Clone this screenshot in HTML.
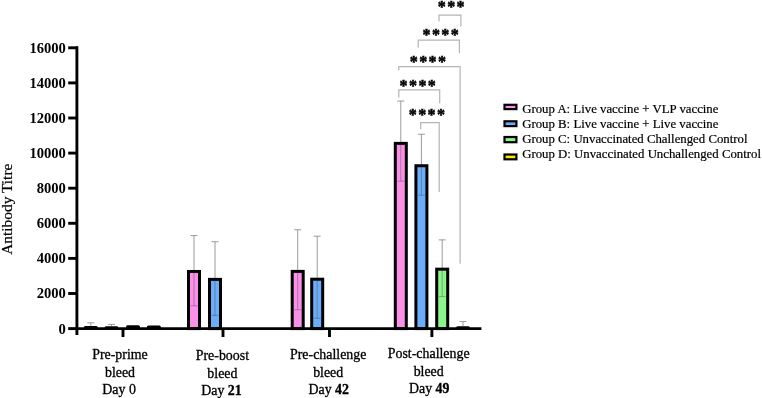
<!DOCTYPE html>
<html lang="en">
<head>
<meta charset="utf-8">
<title>Antibody Titre</title>
<style>
html,body{margin:0;padding:0;background:#fff;}
body{width:762px;height:398px;overflow:hidden;}
svg{display:block;}
</style>
</head>
<body>
<svg width="762" height="398" viewBox="0 0 762 398">
<rect width="762" height="398" fill="#fff"/>
<g id="bars">
<path d="M90.80 322.81V325.97M87.30 322.81h7" stroke="#8e8e8e" stroke-width="0.9" fill="none"/>
<rect x="83.80" y="325.97" width="14.00" height="3.63" rx="1.5" fill="#000"/>
<path d="M111.50 324.39V326.32M108.00 324.39h7" stroke="#8e8e8e" stroke-width="0.9" fill="none"/>
<rect x="104.50" y="326.32" width="14.00" height="3.28" rx="1.5" fill="#000"/>
<rect x="126.00" y="325.27" width="14.00" height="4.33" rx="1.5" fill="#000"/>
<rect x="146.90" y="325.62" width="14.00" height="3.98" rx="1.5" fill="#000"/>
<rect x="188.50" y="271.48" width="11.00" height="57.12" fill="#fb90e8"/>
<path d="M194.00 235.59V269.98M190.50 235.59h7" stroke="#8e8e8e" stroke-width="0.9" fill="none"/>
<path d="M194.00 269.98V305.79M190.50 305.79h7" stroke="#444" stroke-width="1" fill="none" opacity="0.4"/>
<rect x="188.50" y="271.48" width="11.00" height="57.12" fill="none" stroke="#000" stroke-width="3.0"/>
<rect x="209.50" y="279.38" width="11.00" height="49.22" fill="#6aaefa"/>
<path d="M215.00 241.73V277.88M211.50 241.73h7" stroke="#8e8e8e" stroke-width="0.9" fill="none"/>
<path d="M215.00 277.88V315.44M211.50 315.44h7" stroke="#444" stroke-width="1" fill="none" opacity="0.4"/>
<rect x="209.50" y="279.38" width="11.00" height="49.22" fill="none" stroke="#000" stroke-width="3.0"/>
<rect x="292.20" y="271.40" width="11.00" height="57.20" fill="#fb90e8"/>
<path d="M297.70 229.79V269.90M294.20 229.79h7" stroke="#8e8e8e" stroke-width="0.9" fill="none"/>
<path d="M297.70 269.90V309.73M294.20 309.73h7" stroke="#444" stroke-width="1" fill="none" opacity="0.4"/>
<rect x="292.20" y="271.40" width="11.00" height="57.20" fill="none" stroke="#000" stroke-width="3.0"/>
<rect x="311.70" y="279.21" width="11.00" height="49.39" fill="#6aaefa"/>
<path d="M317.20 236.20V277.71M313.70 236.20h7" stroke="#8e8e8e" stroke-width="0.9" fill="none"/>
<path d="M317.20 277.71V318.25M313.70 318.25h7" stroke="#444" stroke-width="1" fill="none" opacity="0.4"/>
<rect x="311.70" y="279.21" width="11.00" height="49.39" fill="none" stroke="#000" stroke-width="3.0"/>
<rect x="395.30" y="143.37" width="11.00" height="185.23" fill="#fb90e8"/>
<path d="M400.80 101.06V141.87M397.30 101.06h7" stroke="#8e8e8e" stroke-width="0.9" fill="none"/>
<path d="M400.80 141.87V181.18M397.30 181.18h7" stroke="#444" stroke-width="1" fill="none" opacity="0.4"/>
<rect x="395.30" y="143.37" width="11.00" height="185.23" fill="none" stroke="#000" stroke-width="3.0"/>
<rect x="415.90" y="165.74" width="11.00" height="162.86" fill="#6aaefa"/>
<path d="M421.40 134.23V164.24M417.90 134.23h7" stroke="#8e8e8e" stroke-width="0.9" fill="none"/>
<path d="M421.40 164.24V195.22M417.90 195.22h7" stroke="#444" stroke-width="1" fill="none" opacity="0.4"/>
<rect x="415.90" y="165.74" width="11.00" height="162.86" fill="none" stroke="#000" stroke-width="3.0"/>
<rect x="436.70" y="269.17" width="11.00" height="59.43" fill="#8af58a"/>
<path d="M442.20 239.88V267.67M438.70 239.88h7" stroke="#8e8e8e" stroke-width="0.9" fill="none"/>
<path d="M442.20 267.67V296.66M438.70 296.66h7" stroke="#444" stroke-width="1" fill="none" opacity="0.4"/>
<rect x="436.70" y="269.17" width="11.00" height="59.43" fill="none" stroke="#000" stroke-width="3.0"/>
<path d="M463.00 321.58V326.14M459.50 321.58h7" stroke="#8e8e8e" stroke-width="0.9" fill="none"/>
<rect x="456.00" y="326.14" width="14.00" height="3.46" rx="1.5" fill="#000"/>
</g>
<g id="axes" stroke="#000" stroke-width="2.9" fill="none">
<path d="M76.9 46.30V335"/>
<path d="M76 328.60H481.4"/>
<path d="M68.2 328.60H77"/>
<path d="M68.2 293.50H77"/>
<path d="M68.2 258.40H77"/>
<path d="M68.2 223.30H77"/>
<path d="M68.2 188.20H77"/>
<path d="M68.2 153.10H77"/>
<path d="M68.2 118.00H77"/>
<path d="M68.2 82.90H77"/>
<path d="M68.2 47.80H77"/>
<path d="M123 328.6V337"/>
<path d="M223 328.6V337"/>
<path d="M329.5 328.6V337"/>
<path d="M431.9 328.6V337"/>
</g>
<g font-family="'Liberation Serif', serif" font-weight="bold" font-size="14.6" text-anchor="end" fill="#000">
<text x="65.9" y="333.50">0</text>
<text x="65.9" y="298.40">2000</text>
<text x="65.9" y="263.30">4000</text>
<text x="65.9" y="228.20">6000</text>
<text x="65.9" y="193.10">8000</text>
<text x="65.9" y="158.00">10000</text>
<text x="65.9" y="122.90">12000</text>
<text x="65.9" y="87.80">14000</text>
<text x="65.9" y="52.70">16000</text>
</g>
<text transform="translate(11.5 209.2) rotate(-90)" font-family="'Liberation Serif', serif" font-size="15.4" text-anchor="middle" fill="#000" stroke="#000" stroke-width="0.2">Antibody Titre</text>
<g font-family="'Liberation Serif', serif" font-size="13.9" text-anchor="middle" fill="#000" stroke="#000" stroke-width="0.3">
<text x="120.00" y="359.20">Pre-prime</text>
<text x="120.00" y="376.70">bleed</text>
<text x="119.10" y="394.20">Day 0</text>
<text x="222.40" y="360.30">Pre-boost</text>
<text x="222.40" y="377.80">bleed</text>
<text x="221.50" y="395.30">Day <tspan font-weight="bold">21</tspan></text>
<text x="328.20" y="359.20">Pre-challenge</text>
<text x="328.20" y="376.70">bleed</text>
<text x="328.70" y="394.20">Day <tspan font-weight="bold">42</tspan></text>
<text x="428.70" y="358.20">Post-challenge</text>
<text x="428.70" y="375.70">bleed</text>
<text x="429.20" y="393.20">Day <tspan font-weight="bold">49</tspan></text>
</g>
<g id="brackets" stroke="#b4b4b4" stroke-width="1.2" fill="none">
<path d="M439 21.4V15.1H460.9V26.4"/>
<path d="M418.2 47.7V40.2H459.4V53.3"/>
<path d="M398.8 70.4V66.6H460.1V263.8"/>
<path d="M398.8 97.6V89.8H439.7V103.2"/>
<path d="M420.7 129V122.7H439.2V192"/>
</g>
<g font-family="'Liberation Serif', serif" font-weight="bold" font-size="16" letter-spacing="1.4" stroke="#000" stroke-width="0.5" stroke-linejoin="miter" text-anchor="middle" fill="#000">
<text x="451.9" y="12.3">***</text>
<text x="441.3" y="40.0">****</text>
<text x="428.6" y="67.2">****</text>
<text x="418.4" y="90.8">****</text>
<text x="427.6" y="120.2">****</text>
</g>
<g id="legend">
<rect x="504.50" y="104.80" width="11.90" height="4.30" fill="#fb90e8" stroke="#000" stroke-width="2.2"/>
<rect x="504.50" y="121.30" width="11.90" height="4.80" fill="#6aaefa" stroke="#000" stroke-width="2.2"/>
<rect x="504.50" y="137.00" width="11.90" height="5.20" fill="#8af58a" stroke="#000" stroke-width="2.2"/>
<rect x="504.50" y="154.50" width="11.90" height="4.80" fill="#fbe800" stroke="#000" stroke-width="2.2"/>
<g font-family="'Liberation Serif', serif" font-size="12.8" fill="#000" stroke="#000" stroke-width="0.2">
<text x="522.2" y="112.5">Group A: Live vaccine + VLP vaccine</text>
<text x="522.2" y="128.2">Group B: Live vaccine + Live vaccine</text>
<text x="522.2" y="143.3">Group C: Unvaccinated Challenged Control</text>
<text x="522.2" y="158.4">Group D: Unvaccinated Unchallenged Control</text>
</g></g>
</svg>
</body>
</html>
